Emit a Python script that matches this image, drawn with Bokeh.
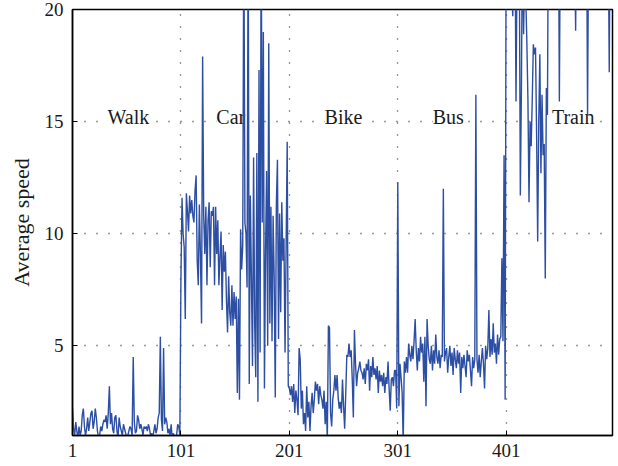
from bokeh.plotting import figure
from bokeh.models import Range1d, FixedTicker, Label, ColumnDataSource
from bokeh.embed import file_html
from bokeh.resources import INLINE

# ---- data ----
walk = [2.2, 1.3, 1.0, 1.6, 1.2, 0.9, 1.4, 1.0, 1.2, 1.9,
        2.2, 1.4, 1.0, 1.3, 1.8, 1.2, 1.6, 2.0, 2.1, 1.3,
        1.6, 2.2, 1.8, 1.2, 0.9, 1.0, 1.4, 1.2, 1.5, 1.7,
        1.6, 1.9, 1.3, 2.0, 3.2, 1.5, 2.0, 1.3, 1.1, 1.8,
        1.9, 1.2, 0.9, 1.8, 1.4, 1.2, 1.0, 1.5, 1.3, 1.1,
        0.9, 1.0, 1.2, 1.4, 1.3, 1.0, 4.5, 1.6, 1.1, 1.2,
        1.9, 1.7, 1.3, 1.5, 1.3, 1.0, 1.4, 1.3, 1.4, 1.2,
        1.5, 1.3, 1.0, 1.1, 0.9, 1.2, 1.5, 1.1, 1.3, 1.8,
        2.0, 5.4, 1.7, 1.2, 4.9, 1.5, 1.8, 1.6, 1.1, 1.3,
        1.0, 1.5, 0.8, 1.1, 0.9, 0.9, 1.0, 1.5, 1.4, 1.0]
car = [8.0, 11.6, 10.0, 9.4, 6.2, 11.8, 11.0, 10.1, 11.7, 10.9,
       11.5, 10.8, 10.5, 11.9, 12.6, 8.8, 7.7, 11.3, 9.0, 6.0,
       17.9, 10.8, 9.1, 11.2, 7.7, 10.6, 11.4, 8.5, 11.0, 10.8,
       11.2, 7.7, 11.2, 9.1, 10.6, 7.7, 9.0, 10.1, 6.6, 9.5,
       8.3, 9.2, 7.0, 5.6, 8.1, 6.5, 5.9, 7.7, 5.9, 7.4,
       6.2, 7.2, 2.9, 7.1, 2.6, 10.2, 8.4, 9.5, 24.0, 10.5,
       10.0, 7.6, 24.0, 3.3, 11.7, 8.0, 4.1, 13.4, 6.0, 3.6,
       13.6, 2.5, 17.3, 4.7, 24.0, 10.5, 19.0, 3.1, 9.0, 12.8,
       5.0, 18.5, 6.0, 11.2, 5.2, 10.8, 8.0, 2.7, 11.3, 13.3,
       5.3, 10.9, 6.5, 11.4, 8.8, 9.8, 4.7, 9.4, 14.1, 3.2]
bike = [3.1, 2.8, 3.2, 2.5, 3.3, 2.0, 3.0, 2.6, 1.9, 4.9,
        4.4, 2.2, 3.0, 1.5, 2.0, 1.2, 3.2, 1.8, 2.5, 1.2,
        2.3, 2.9, 2.0, 2.6, 3.4, 3.0, 3.3, 2.4, 3.2, 2.8,
        2.6, 2.2, 3.0, 1.5, 2.5, 0.8, 5.9, 5.8, 2.0, 1.4,
        2.6, 3.0, 3.7, 3.0, 3.7, 2.7, 2.2, 2.5, 2.0, 3.5,
        2.3, 1.3, 2.9, 4.6, 4.5, 5.1, 4.5, 4.8, 3.5, 1.8,
        5.7, 4.2, 3.2, 3.8, 4.0, 4.3, 3.9, 3.8, 3.5, 4.0,
        3.3, 4.2, 3.9, 4.4, 3.0, 4.1, 3.6, 4.5, 3.7, 4.0,
        3.5, 4.1, 2.9, 3.9, 3.4, 3.7, 3.2, 3.8, 2.9, 3.6,
        3.3, 4.3, 3.1, 2.1, 3.5, 3.6, 3.2, 3.9, 3.9, 2.2]
bus = [12.3, 2.3, 4.2, 3.6, 2.9, 0.7, 4.3, 3.8, 4.5, 3.8,
       5.1, 4.6, 4.3, 5.0, 4.4, 5.2, 6.2, 4.8, 3.9, 4.9,
       4.3, 5.4, 4.7, 5.1, 3.4, 5.4, 2.3, 6.2, 5.0, 4.4,
       4.2, 5.0, 3.9, 4.8, 4.2, 5.5, 4.5, 4.2, 4.8, 4.0,
       4.6, 4.5, 12.0, 4.3, 4.7, 4.9, 3.8, 4.5, 5.0, 4.1,
       4.7, 3.7, 4.9, 4.4, 4.0, 4.8, 4.2, 4.7, 2.9, 4.5,
       4.0, 4.6, 4.1, 3.6, 4.8, 4.3, 4.6, 3.9, 3.2, 4.5,
       4.0, 4.4, 16.2, 4.4, 3.8, 4.6, 3.6, 4.3, 4.9, 4.2,
       3.1, 5.0, 4.4, 4.9, 6.6, 4.5, 5.3, 4.6, 6.0, 4.7,
       5.1, 4.2, 5.5, 4.6, 5.3, 5.4, 8.9, 5.2, 13.5, 2.6]
train = [26, 24, 22, 25, 23, 21, 19.7, 22, 24, 15.9,
         22, 25, 23, 11.7, 16.5, 24, 18.9, 22, 20.5, 18.6,
         16.0, 11.4, 15.0, 13.9, 16.0, 18.45, 18.0, 18.3, 14.5, 9.65,
         15.0, 18.0, 12.7, 16.2, 13.5, 14.0, 8.0, 16.5, 15.3, 26,
         25, 27, 24, 26, 23, 25, 28, 24, 26, 15.9,
         25, 27, 24, 26, 23, 28, 25, 24, 26, 27,
         24, 25, 26, 23, 19.05, 25, 27, 24, 26, 25,
         23, 26, 24, 27, 25, 15.3, 24, 26, 25, 23,
         27, 24, 26, 25, 23, 26, 24, 27, 25, 24,
         26, 23, 25, 27, 24, 17.2, 26, 25, 24]

speed = walk + car + bike + bus + train
index = list(range(1, len(speed) + 1))

x_ticks = [1, 101, 201, 301, 401]
y_ticks = [5, 10, 15, 20]
mode_names = ["Walk", "Car", "Bike", "Bus", "Train"]
mode_label_x = [52.5, 147.0, 250.9, 347.6, 462.8]
mode_label_y = 15.19

FONT = "Liberation Serif"
BLUE = "#2c4ea3"

p = figure(width=618, height=466, x_range=Range1d(1, 499), y_range=Range1d(1, 20),
           output_backend="svg", toolbar_location=None,
           min_border_left=72, min_border_right=6, min_border_top=9, min_border_bottom=31)
p.background_fill_color = "white"
p.border_fill_color = "white"
p.outline_line_color = "black"
p.outline_line_width = 1.5

for ax, ticks in ((p.xaxis[0], x_ticks), (p.yaxis[0], y_ticks)):
    ax.ticker = FixedTicker(ticks=ticks)
    ax.major_tick_in = 5
    ax.major_tick_out = 0
    ax.minor_tick_in = 0
    ax.minor_tick_out = 0
    ax.axis_line_width = 1.5
    ax.axis_line_color = "black"
    ax.major_tick_line_color = "black"
    ax.major_label_text_font = FONT
    ax.major_label_text_font_size = "19px"
    ax.major_label_text_color = "#1a1a1a"
p.xaxis.major_label_standoff = 8
p.yaxis.major_label_standoff = 9
p.yaxis.axis_label = "Average speed"
p.yaxis.axis_label_text_font = FONT
p.yaxis.axis_label_text_font_size = "22px"
p.yaxis.axis_label_text_font_style = "normal"
p.yaxis.axis_label_text_color = "#1a1a1a"
p.yaxis.axis_label_standoff = 8

for g in (p.xgrid[0], p.ygrid[0]):
    g.grid_line_color = "#333333"
    g.grid_line_dash = "1 11"
    g.grid_line_width = 1.3
p.xgrid.ticker = FixedTicker(ticks=x_ticks)
p.ygrid.ticker = FixedTicker(ticks=y_ticks)

for name, lx in zip(mode_names, mode_label_x):
    p.add_layout(Label(x=lx, y=mode_label_y, text=name, text_align="center",
                       text_baseline="middle", text_font=FONT, text_font_size="20px",
                       text_color="#1a1a1a", background_fill_color="white",
                       level="underlay"))

src = ColumnDataSource(data=dict(index=index, speed=speed))
p.line("index", "speed", source=src, line_color=BLUE, line_width=1.4)

open("out.html", "w").write(file_html(p, INLINE))
